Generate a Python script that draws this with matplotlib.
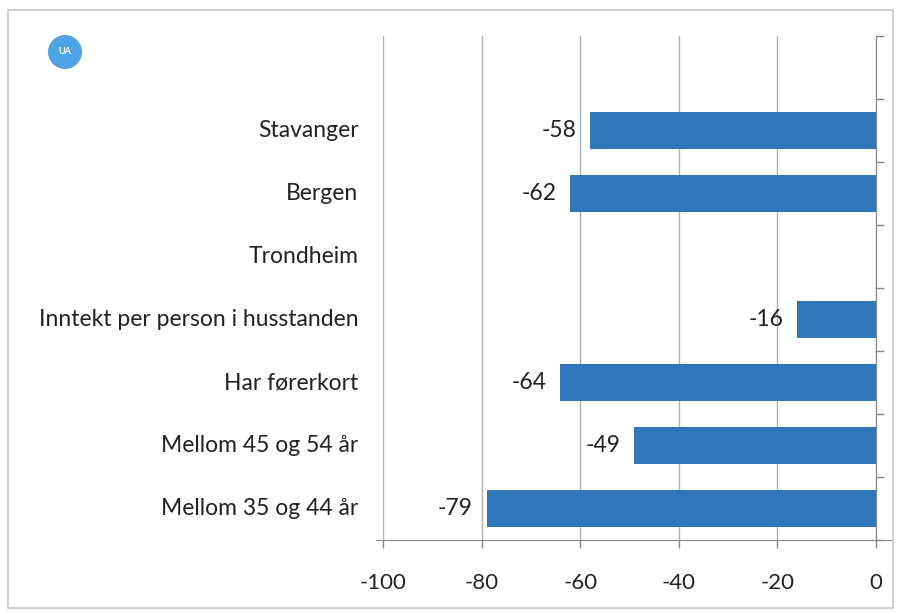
import matplotlib
matplotlib.use("Agg")
import matplotlib.pyplot as plt
from matplotlib.patches import Ellipse, Rectangle
import numpy as np

categories = ["", "Stavanger", "Bergen", "Trondheim", "Inntekt per person i husstanden",
              "Har førerkort", "Mellom 45 og 54 år", "Mellom 35 og 44 år"]
values = [None, -58, -62, None, -16, -64, -49, -79]
xticks = [-100, -80, -60, -40, -20, 0]

plt.rcParams['font.family'] = ['Lato', 'DejaVu Sans']

fig = plt.figure(figsize=(8.97, 6.14), dpi=100)
ax = fig.add_axes([383/897, 1-540/614, (876-383)/897, (540-36)/614])

n = len(categories)
ypos = np.arange(n)
bar_color = '#2f76bb'
txt = '#222222'
for y, v in zip(ypos, values):
    if v is None:
        continue
    ax.barh(y, v, height=0.6, color=bar_color, zorder=3)
    ax.text(v - 2.8, y, f"{v}", ha='right', va='center', fontsize=16.5, color=txt)

ax.set_xlim(-100, 0)
ax.set_ylim(n - 0.5, -0.5)
ax.set_xticks(xticks)
ax.set_xticklabels([str(t) for t in xticks], fontsize=16, color=txt)
ax.tick_params(axis='x', length=6, width=1, color='#888888', pad=18)
ax.grid(axis='x', color='#b0b0b0', linewidth=1, zorder=0)

# category labels
ax.set_yticks([])
for y, c in zip(ypos, categories):
    ax.text(-105, y, c, ha='right', va='center', fontsize=16.5, color=txt)

ax.spines['top'].set_visible(False)
ax.spines['left'].set_visible(False)
ax.spines['right'].set_color('#888888')
ax.spines['bottom'].set_color('#888888')
ax.spines['bottom'].set_bounds(-101.5, 3)

# right axis with ticks at category boundaries
ax2 = ax.twinx()
ax2.set_ylim(ax.get_ylim())
ax2.set_yticks(np.arange(-0.5, n, 1.0))
ax2.set_yticklabels([])
ax2.tick_params(axis='y', length=6, width=1, color='#888888', direction='out')
for s in ['top', 'left', 'bottom']:
    ax2.spines[s].set_visible(False)
ax2.spines['right'].set_color('#888888')

# frame around figure
fig.patches.append(Rectangle((8/897, 6/614), 885/897, 598/614, transform=fig.transFigure,
                             fill=False, edgecolor='#c8c8c8', linewidth=1.2))
# UA logo
fig.patches.append(Ellipse((65/897, 1-52/614), 34/897, 34/614, transform=fig.transFigure,
                           facecolor='#4da3e6', edgecolor='none'))
fig.text(65/897, 1-52/614, "UA", ha='center', va='center', fontsize=6.5,
         color='white', fontweight='bold')

fig.savefig("out.png", dpi=100)
